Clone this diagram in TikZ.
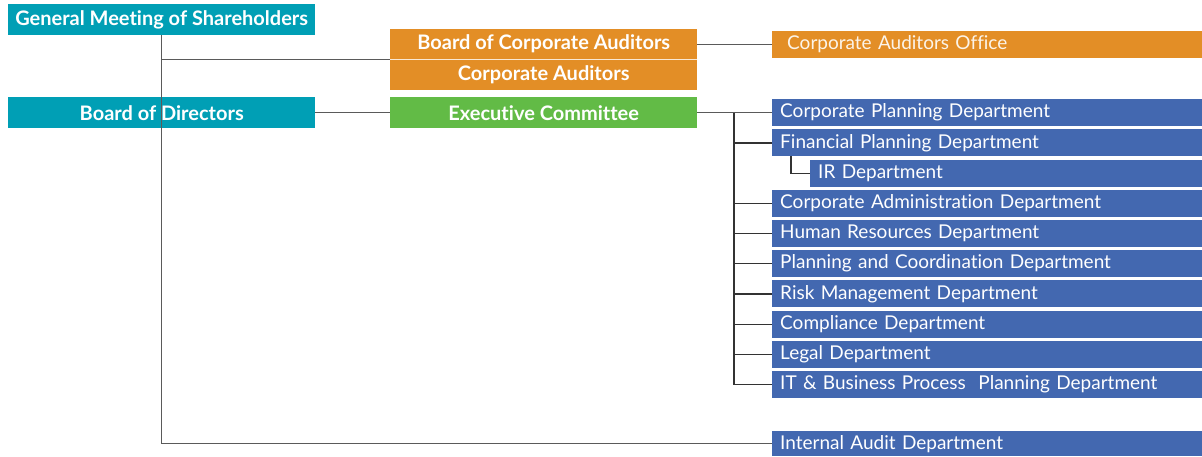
\documentclass[tikz,border=0pt]{standalone}
\usepackage{fontspec}
\setmainfont{Lato}[Ligatures={NoCommon}]
\definecolor{teal}{RGB}{0,159,181}
\definecolor{orng}{RGB}{227,142,38}
\definecolor{grn}{RGB}{98,187,70}
\definecolor{blu}{RGB}{67,104,176}
\definecolor{ln}{RGB}{90,90,90}
\begin{document}
\begin{tikzpicture}[x=1pt,y=-1pt,
  top/.style={fill=#1,text=white,font=\fontsize{20}{22}\selectfont\bfseries,minimum height=31,minimum width=307,inner sep=0,anchor=north west},
  dept/.style={fill=blu,text=white,font=\fontsize{19}{21}\selectfont,minimum height=27,inner xsep=8,inner ysep=0,text width=414,align=left,anchor=north west},
  conn/.style={draw=ln,line width=1.2pt}]
\useasboundingbox (0,0) rectangle (1202,456);
\node[top=teal] (gm) at (8,4) {General Meeting of Shareholders};
\node[top=teal] (bod) at (8,97) {Board of Directors};
\node[top=orng,minimum height=30] (bca) at (390,29) {Board of Corporate Auditors};
\node[top=orng,minimum height=30] (ca) at (390,60) {Corporate Auditors};
\draw[white!80!orng,line width=0.8pt] (bca.south west) -- (bca.south east);
\node[top=grn] (ec) at (390,97) {Executive Committee};
\node[fill=orng,text=white!90!orng,font=\fontsize{19}{21}\selectfont,minimum height=27,inner xsep=15,inner ysep=0,text width=400,align=left,anchor=north west] (cao) at (772,30.5) {Corporate Auditors Office};
\node[dept] (d1) at (772,99) {Corporate Planning Department};
\node[dept] (d2) at (772,129.2) {Financial Planning Department};
\node[dept,text width=376] (ir) at (810,159.4) {IR Department};
\node[dept] (d3) at (772,189.6) {Corporate Administration Department};
\node[dept] (d4) at (772,219.8) {Human Resources Department};
\node[dept] (d5) at (772,250) {Planning and Coordination Department};
\node[dept] (d6) at (772,280.2) {Risk Management Department};
\node[dept] (d7) at (772,310.4) {Compliance Department};
\node[dept] (d8) at (772,340.6) {Legal Department};
\node[dept] (d9) at (772,370.8) {IT \& Business Process\ \ Planning Department};
\node[dept,minimum height=25] (ia) at (772,431) {Internal Audit Department};
% connectors
\draw[conn] (gm.south) |- (ia.west);
\draw[conn] (gm.south |- bca.south west) -- (bca.south west);
\draw[conn] (bod.east) -- (ec.west);
\draw[conn] (bca.east) -- (cao.west);
\draw[conn] (ec.east) -- (ec.east -| d1.west);
\coordinate (br) at (734,112.5);
\draw[conn,draw=black!80] (br) |- (d9.west);
\foreach \d in {d2,d3,d4,d5,d6,d7,d8} \draw[conn,draw=black!80] (br |- \d.west) -- (\d.west);
\coordinate (irb) at (791,156.2);
\draw[conn,draw=black!80] (irb) |- (ir.west);
\end{tikzpicture}
\end{document}
